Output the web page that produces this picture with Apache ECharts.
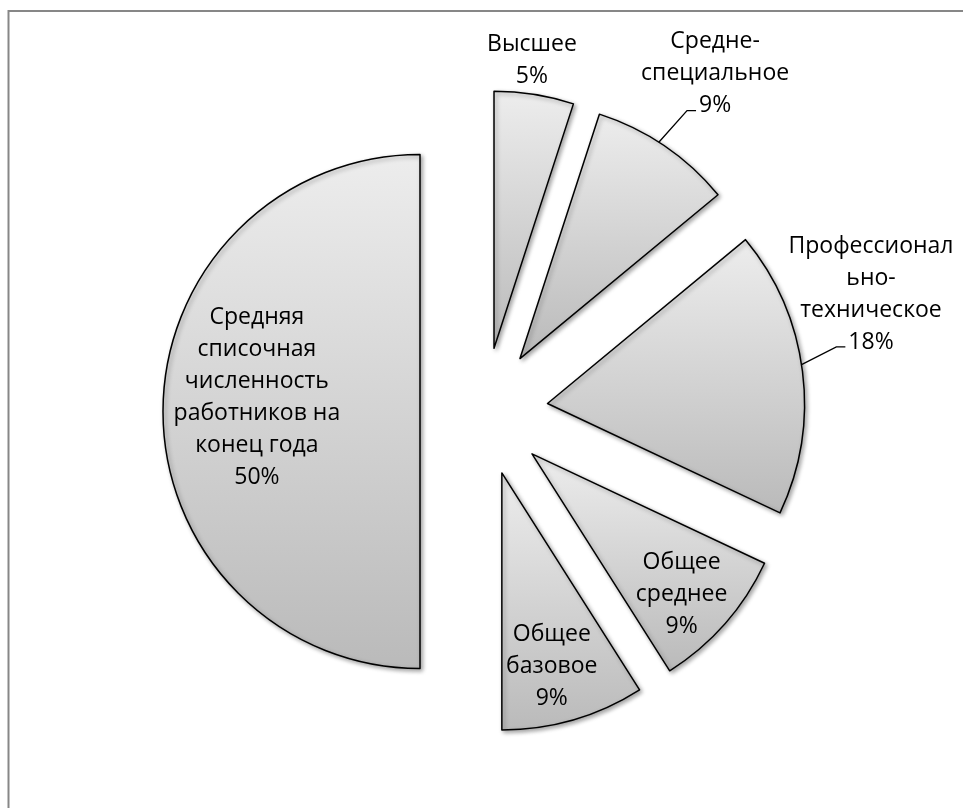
<!DOCTYPE html>
<html><head><meta charset="utf-8">
<script src="https://cdn.jsdelivr.net/npm/echarts@6/dist/echarts.min.js"></script>
<style>html,body{margin:0;padding:0;background:#fff}#c{width:963px;height:808px}</style>
</head><body><div id="c"></div>
<script>
// ---- data ----
const categories = ['Высшее', 'Средне-специальное', 'Профессионально-техническое', 'Общее среднее', 'Общее базовое', 'Средняя списочная численность работников на конец года'];
const labelNames = ['Высшее', 'Средне-\nспециальное', 'Профессионал\nьно-\nтехническое', 'Общее\nсреднее', 'Общее\nбазовое', 'Средняя\nсписочная\nчисленность\nработников на\nконец года'];
const shares = [5, 9, 18, 9, 9, 50];

// ---- layout / style config ----
const CX = 484, CY = 411.5, R = 257, OFF = 64;
const FONT = '"Open Sans", sans-serif', FS = 23, LH = 32;
const labelLeader = [false, true, true, false, false, false];
const labelPlace = [
  {k: 1.131, da: -1.5}, {k: 1.344, da: 0.2}, {k: 1.329, da: -11.5},
  {k: 0.80, da: 1.9}, {k: 0.776, da: 1.7}, {k: 0.637, da: 4.9}
];

const total = shares.reduce((a, b) => a + b, 0);
function midAngle(i) {
  let s = 0; for (let j = 0; j < i; j++) s += shares[j];
  return (s + shares[i] / 2) / total * 360;
}
const rad = d => d * Math.PI / 180;
const ctx = document.createElement('canvas').getContext('2d');
ctx.font = FS + 'px ' + FONT;

const grad = () => new echarts.graphic.LinearGradient(0, 0, 0, 1, [
  {offset: 0, color: '#ededed'}, {offset: 1, color: '#bababa'}
]);
const itemStyle = {
  color: grad(), borderColor: '#000', borderWidth: 1.5,
  shadowColor: 'rgba(0,0,0,0.35)', shadowBlur: 4, shadowOffsetX: 2, shadowOffsetY: 2
};

const chart = echarts.init(document.getElementById('c'), null, {renderer: 'canvas'});
chart.setOption({
  animation: false,
  backgroundColor: '#fff',
  graphic: [{
    type: 'rect', shape: {x: 8.5, y: 11, width: 1000, height: 1000},
    style: {fill: 'none', stroke: '#878787', lineWidth: 2}, silent: true
  }],
  series: [{
    // exploded slices
    type: 'pie',
    center: [CX, CY], radius: R,
    startAngle: 90, clockwise: true,
    selectedMode: 'multiple', selectedOffset: OFF,
    silent: true,
    itemStyle: itemStyle,
    select: {itemStyle: itemStyle, label: {show: false}},
    emphasis: {disabled: true},
    label: {show: false}, labelLine: {show: false},
    data: categories.map((c, i) => ({name: c, value: shares[i], selected: true}))
  }, {
    // data labels for the same slices
    type: 'pie',
    center: [CX, CY], radius: R,
    startAngle: 90, clockwise: true,
    silent: true, z: 5,
    avoidLabelOverlap: false, percentPrecision: 0,
    itemStyle: {color: 'rgba(0,0,0,0)', borderWidth: 0},
    emphasis: {disabled: true},
    label: {
      show: true, position: 'outside', color: '#000', fontFamily: FONT, fontSize: FS, lineHeight: LH,
      align: 'center', formatter: p => labelNames[p.dataIndex] + '\n' + p.percent + '%'
    },
    labelLine: {show: true, lineStyle: {color: '#000', width: 1.3}},
    labelLayout: function (p) {
      const i = p.dataIndex;
      const m = midAngle(i);
      const px = CX + OFF * Math.sin(rad(m)), py = CY - OFF * Math.cos(rad(m));
      const a = m + labelPlace[i].da, d = labelPlace[i].k * R;
      const lx = px + d * Math.sin(rad(a)), ly = py - d * Math.cos(rad(a));
      const out = {x: lx, y: ly, align: 'center', verticalAlign: 'middle'};
      if (labelLeader[i]) {
        const lines = (labelNames[i] + '\n' + shares[i] + '%').split('\n');
        const n = lines.length;
        const lastY = ly - n * LH / 2 + (n - 0.5) * LH;
        const lastW = ctx.measureText(lines[n - 1]).width;
        const ex = lx - lastW / 2 - 3, ey = lastY + 5;
        const sa = m - 1.5;
        out.labelLinePoints = [
          [px + R * Math.sin(rad(sa)), py - R * Math.cos(rad(sa))],
          [ex - 9, ey], [ex, ey]
        ];
      } else {
        out.labelLinePoints = [[lx, ly], [lx, ly], [lx, ly]];
      }
      return out;
    },
    data: categories.map((c, i) => ({
      name: c, value: shares[i], labelLine: {show: labelLeader[i]}
    }))
  }]
});
</script></body></html>
